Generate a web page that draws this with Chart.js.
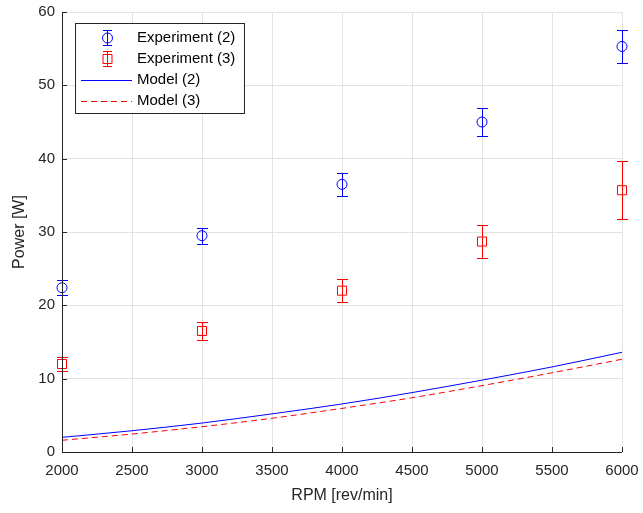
<!DOCTYPE html>
<html>
<head>
<meta charset="utf-8">
<script src="https://cdn.jsdelivr.net/npm/chart.js@4/dist/chart.umd.min.js"></script>
<style>
  html, body { margin: 0; padding: 0; background: #fff; }
  #wrap { width: 643px; height: 513px; }
</style>
</head>
<body>
<div id="wrap"><canvas id="chart" width="643" height="513"></canvas></div>
<script>
"use strict";

// measured values
let rpm = [2000, 3000, 4000, 5000, 6000];
let exp2 = [22.4, 29.5, 36.5, 45.0, 55.3];
let exp2Err = [1.0, 1.1, 1.55, 1.9, 2.3];
let exp3 = [12.0, 16.5, 22.0, 28.7, 35.7];
let exp3Err = [0.9, 1.2, 1.6, 2.3, 3.95];

// model curves
let modelRpm = [2000, 2500, 3000, 3500, 4000, 4500, 5000, 5500, 6000];
let model2 = [2.0, 2.9, 3.95, 5.2, 6.55, 8.1, 9.8, 11.6, 13.6];
let model3 = [1.6, 2.45, 3.45, 4.6, 5.95, 7.4, 9.05, 10.8, 12.65];

let xTicks = [2000, 2500, 3000, 3500, 4000, 4500, 5000, 5500, 6000];

const BLUE = "rgb(0, 0, 255)";
const RED = "rgb(255, 0, 0)";
const AXIS = "#262626";
const FONT = "'Liberation Sans', Arial, sans-serif";

function pts(xs, ys) {
  return xs.map((x, i) => ({ x: x, y: ys[i] }));
}

// error bars drawn under the markers
const errorBars = {
  id: "errorBars",
  beforeDatasetsDraw(chart) {
    let ctx = chart.ctx;
    let xs = chart.scales.x;
    let ys = chart.scales.y;
    chart.data.datasets.forEach((ds) => {
      if (!ds.errors) return;
      ctx.save();
      ctx.strokeStyle = ds.borderColor;
      ctx.lineWidth = 1;
      ds.data.forEach((p, i) => {
        let px = Math.round(xs.getPixelForValue(p.x)) + 0.5;
        let top = Math.round(ys.getPixelForValue(p.y + ds.errors[i])) + 0.5;
        let bot = Math.round(ys.getPixelForValue(p.y - ds.errors[i])) + 0.5;
        ctx.beginPath();
        ctx.moveTo(px, top);
        ctx.lineTo(px, bot);
        ctx.moveTo(px - 5.5, top);
        ctx.lineTo(px + 5.5, top);
        ctx.moveTo(px - 5.5, bot);
        ctx.lineTo(px + 5.5, bot);
        ctx.stroke();
      });
      ctx.restore();
    });
  },
};

// MATLAB style axes: inward ticks, legend box inside
const axesDeco = {
  id: "axesDeco",
  afterDraw(chart) {
    let ctx = chart.ctx;
    let a = chart.chartArea;
    let xs = chart.scales.x;
    let ys = chart.scales.y;
    ctx.save();
    ctx.strokeStyle = AXIS;
    ctx.lineWidth = 1;
    ctx.beginPath();
    ctx.moveTo(a.left + 0.5, a.top);
    ctx.lineTo(a.left + 0.5, a.bottom + 0.5);
    ctx.lineTo(a.right, a.bottom + 0.5);
    xTicks.forEach((v) => {
      let px = Math.round(xs.getPixelForValue(v)) + 0.5;
      ctx.moveTo(px, a.bottom);
      ctx.lineTo(px, a.bottom - 5);
    });
    for (let v = 0; v <= 60; v += 10) {
      let py = Math.round(ys.getPixelForValue(v)) + 0.5;
      ctx.moveTo(a.left, py);
      ctx.lineTo(a.left + 5, py);
    }
    ctx.stroke();

    // legend
    let bx = 75.5, by = 23.5, bw = 169, bh = 90;
    ctx.fillStyle = "#fff";
    ctx.fillRect(bx, by, bw, bh);
    ctx.strokeStyle = AXIS;
    ctx.strokeRect(bx, by, bw, bh);
    let rows = [38, 59, 80, 101];
    let labels = chart.data.datasets.map((d) => d.label);
    ctx.font = "15px " + FONT;
    ctx.fillStyle = "#000";
    ctx.textBaseline = "middle";
    labels.forEach((t, i) => ctx.fillText(t, 137, rows[i]));

    // errorbar symbols
    [[BLUE, "circle"], [RED, "rect"]].forEach((s, i) => {
      let cy = rows[i];
      ctx.strokeStyle = s[0];
      ctx.beginPath();
      ctx.moveTo(107.5, cy - 7);
      ctx.lineTo(107.5, cy + 7);
      ctx.moveTo(103, cy - 7.5);
      ctx.lineTo(112, cy - 7.5);
      ctx.moveTo(103, cy + 7.5);
      ctx.lineTo(112, cy + 7.5);
      ctx.stroke();
      ctx.beginPath();
      if (s[1] === "circle") {
        ctx.arc(107.5, cy, 5, 0, Math.PI * 2);
      } else {
        ctx.rect(103, cy - 4.5, 9, 9);
      }
      ctx.stroke();
    });
    // line symbols
    ctx.strokeStyle = BLUE;
    ctx.beginPath();
    ctx.moveTo(81, rows[2] + 0.5);
    ctx.lineTo(132, rows[2] + 0.5);
    ctx.stroke();
    ctx.strokeStyle = RED;
    ctx.setLineDash([6, 4]);
    ctx.beginPath();
    ctx.moveTo(81, rows[3] + 0.5);
    ctx.lineTo(132, rows[3] + 0.5);
    ctx.stroke();
    ctx.restore();
  },
};

let chart = new Chart(document.getElementById("chart"), {
  type: "scatter",
  data: {
    datasets: [
      {
        label: "Experiment (2)",
        data: pts(rpm, exp2),
        errors: exp2Err,
        borderColor: BLUE,
        backgroundColor: "rgba(0,0,0,0)",
        pointStyle: "circle",
        pointRadius: 5,
        pointBorderWidth: 1,
        showLine: false,
        clip: false,
      },
      {
        label: "Experiment (3)",
        data: pts(rpm, exp3),
        errors: exp3Err,
        borderColor: RED,
        backgroundColor: "rgba(0,0,0,0)",
        pointStyle: "rect",
        pointRadius: 6.4,
        pointBorderWidth: 1,
        showLine: false,
        clip: false,
      },
      {
        label: "Model (2)",
        data: pts(modelRpm, model2),
        borderColor: BLUE,
        borderWidth: 1,
        pointRadius: 0,
        showLine: true,
        cubicInterpolationMode: "monotone",
      },
      {
        label: "Model (3)",
        data: pts(modelRpm, model3),
        borderColor: RED,
        borderWidth: 1,
        borderDash: [6, 4],
        pointRadius: 0,
        showLine: true,
        cubicInterpolationMode: "monotone",
      },
    ],
  },
  options: {
    responsive: false,
    animation: false,
    layout: { padding: { top: 12, right: 21, left: 6, bottom: 0 } },
    plugins: {
      legend: { display: false },
      tooltip: { enabled: false },
    },
    scales: {
      x: {
        type: "linear",
        min: 2000,
        max: 6000,
        afterBuildTicks: (s) => { s.ticks = xTicks.map((v) => ({ value: v })); },
        afterFit: (s) => { s.height = 61; s.paddingLeft = 0; s.paddingRight = 0; },
        grid: { color: "#e3e3e3", tickLength: 0, drawTicks: false },
        border: { display: false },
        ticks: {
          color: AXIS, font: { size: 15, family: FONT }, padding: 10, maxRotation: 0,
          callback: (v) => String(v),
        },
        title: { display: true, text: "RPM [rev/min]", color: AXIS, font: { size: 16, family: FONT }, padding: { top: 4, bottom: 8 } },
      },
      y: {
        min: 0,
        max: 60,
        ticks: { stepSize: 10, color: AXIS, font: { size: 15, family: FONT }, padding: 7, callback: (v) => String(v) },
        afterFit: (s) => { s.width = 56; s.paddingTop = 0; s.paddingBottom = 0; },
        grid: { color: "#e3e3e3", tickLength: 0, drawTicks: false },
        border: { display: false },
        title: { display: true, text: "Power [W]", color: AXIS, font: { size: 16, family: FONT }, padding: { bottom: 2 } },
      },
    },
  },
  plugins: [errorBars, axesDeco],
});
</script>
</body>
</html>
